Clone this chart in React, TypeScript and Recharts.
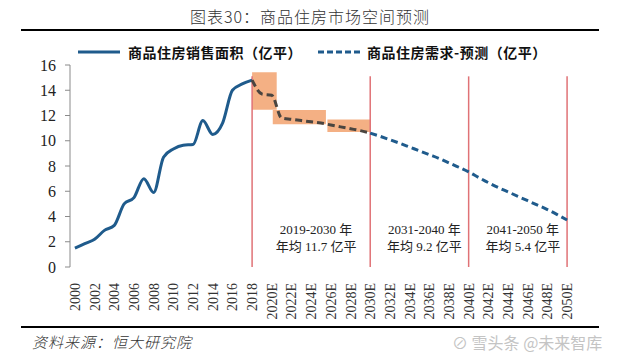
import React from "react"
import { LineChart, Line, XAxis, YAxis, ReferenceLine, ReferenceArea } from "recharts"

// x axis: one category per year, forecasts get an "E"
const years = Array.from({ length: 51 }, (_, i) => 2000 + i)
const yTicks = [0, 2, 4, 6, 8, 10, 12, 14, 16]

// 商品住房销售面积, 2000-2018
const salesYears = [2000, 2001, 2002, 2003, 2004, 2005, 2006, 2007, 2008, 2009, 2010, 2011, 2012, 2013, 2014, 2015, 2016, 2017, 2018]
const salesValues = [1.5, 1.85, 2.2, 2.9, 3.3, 5.0, 5.5, 7.0, 5.9, 8.7, 9.35, 9.65, 9.7, 11.6, 10.5, 11.4, 14.0, 14.5, 14.8]

// 需求预测: 2018-2030 (inside the orange boxes) and 2030-2050
const nearYears = [2018, 2019, 2020, 2021, 2022, 2023, 2024, 2025, 2026, 2027, 2028, 2029, 2030]
const nearValues = [14.8, 13.7, 13.6, 11.8, 11.7, 11.6, 11.5, 11.4, 11.25, 11.1, 10.95, 10.8, 10.6]
const farYears = [2030, 2031, 2032, 2033, 2034, 2035, 2036, 2037, 2038, 2039, 2040, 2041, 2042, 2043, 2044, 2045, 2046, 2047, 2048, 2049, 2050]
const farValues = [10.6, 10.35, 10.08, 9.8, 9.5, 9.2, 8.9, 8.6, 8.25, 7.9, 7.53, 7.1, 6.68, 6.3, 5.95, 5.6, 5.25, 4.9, 4.55, 4.15, 3.72]

// orange boxes
const boxX1 = [2018, 2020.1, 2025.65]
const boxX2 = [2020.5, 2025.5, 2030.05]
const boxLow = [12.45, 11.3, 10.7]
const boxHigh = [15.42, 12.43, 11.68]

// red dividers and period notes
const dividerYears = [2018, 2030, 2040, 2050]
const dividerTop = 15.1
const periodStart = [2019, 2031, 2041]
const periodEnd = [2030, 2040, 2050]
const periodAvg = ["11.7", "9.2", "5.4"]

const data = years.map((y) => {
    const si = salesYears.indexOf(y)
    const ni = nearYears.indexOf(y)
    const fi = farYears.indexOf(y)
    return {
        year: y,
        sales: si >= 0 ? salesValues[si] : null,
        near: ni >= 0 ? nearValues[ni] : null,
        far: fi >= 0 ? farValues[fi] : null,
    }
})

const SERIF = '"Liberation Serif", "Times New Roman", "Noto Sans CJK SC", serif'
const CJK = '"Noto Sans CJK SC", sans-serif'
const BLUE = "#1F5B8C"
const RED = "#E07276"
const ORANGE = "#F4B084"
const AXIS = "#8A8A8A"

const yearLabel = (y: number) => (y > 2018 ? `${y}E` : `${y}`)

function YearTick(props: any) {
    const { x, y, payload } = props
    return (
        <text
            transform={`translate(${x + 5},${y + 8}) rotate(-90)`}
            textAnchor="end"
            fontFamily={SERIF}
            fontSize={14}
            fill="#333"
        >
            {yearLabel(payload.value)}
        </text>
    )
}

function periodLabel(i: number) {
    return (props: any) => {
        const { x, y, width, height } = props.viewBox
        const cx = x + width / 2
        const cy = y + height / 2
        return (
            <text textAnchor="middle" fontFamily={SERIF} fontSize={13} fill="#222">
                <tspan x={cx} y={cy - 4}>{`${periodStart[i]}-${periodEnd[i]} 年`}</tspan>
                <tspan x={cx} y={cy + 13}>{`年均 ${periodAvg[i]} 亿平`}</tspan>
            </text>
        )
    }
}

export default function App() {
    const halfTicks = [...years.map((y) => y - 0.5), 2050.5]
    const labelTicks = years.filter((y) => y % 2 === 0)
    return (
        <div style={{ position: "relative", width: 624, height: 359, background: "#fff" }}>
            <style>{`body{margin:0}`}</style>
            <div style={{ position: "absolute", left: 0, top: 4, width: 620, textAlign: "center", fontFamily: CJK, fontSize: 16, fontWeight: 300, letterSpacing: 1, color: "#333" }}>
                图表30：商品住房市场空间预测
            </div>
            <div style={{ position: "absolute", left: 21, top: 29, width: 578, height: 2, background: "#000" }} />
            <div style={{ position: "absolute", left: 78, top: 42, display: "flex", alignItems: "center", fontFamily: CJK, fontSize: 14, fontWeight: 700, letterSpacing: 0.5, color: "#111", whiteSpace: "nowrap" }}>
                <svg width={42} height={6}><line x1={0} y1={3} x2={42} y2={3} stroke={BLUE} strokeWidth={3} /></svg>
                <span style={{ marginLeft: 8 }}>商品住房销售面积（亿平）</span>
                <svg width={44} height={6} style={{ marginLeft: 16 }}><line x1={0} y1={3} x2={44} y2={3} stroke={BLUE} strokeWidth={3} strokeDasharray="6 3" /></svg>
                <span style={{ marginLeft: 5 }}>商品住房需求-预测（亿平）</span>
            </div>
            <div style={{ position: "absolute", left: 0, top: 0 }}>
                <LineChart width={624} height={359} data={data} margin={{ top: 65, right: 52, left: 0, bottom: 32 }}>
                    <XAxis
                        xAxisId="tk"
                        dataKey="year"
                        type="number"
                        domain={[1999.5, 2050.5]}
                        ticks={halfTicks}
                        tick={false}
                        tickSize={4}
                        height={0}
                        stroke={AXIS}
                        allowDataOverflow
                    />
                    <XAxis
                        xAxisId="lab"
                        dataKey="year"
                        type="number"
                        domain={[1999.5, 2050.5]}
                        ticks={labelTicks}
                        interval={0}
                        tick={<YearTick />}
                        tickLine={false}
                        axisLine={false}
                        height={60}
                    />
                    <YAxis
                        domain={[0, 16]}
                        ticks={yTicks}
                        width={70}
                        tickSize={5}
                        tickMargin={9}
                        stroke={AXIS}
                        tick={{ fontFamily: SERIF, fontSize: 16, fill: "#222" }}
                    />
                    {dividerYears.map((y) => (
                        <ReferenceLine
                            key={y}
                            xAxisId="tk"
                            segment={[{ x: y, y: 0 }, { x: y, y: dividerTop }]}
                            stroke={RED}
                            strokeWidth={1.5}
                        />
                    ))}
                    {boxX1.map((x1, i) => (
                        <ReferenceArea
                            key={i}
                            xAxisId="tk"
                            x1={x1}
                            x2={boxX2[i]}
                            y1={boxLow[i]}
                            y2={boxHigh[i]}
                            fill={ORANGE}
                            fillOpacity={1}
                            stroke="none"
                        />
                    ))}
                    {periodStart.map((s, i) => (
                        <ReferenceArea
                            key={"p" + i}
                            xAxisId="tk"
                            x1={s - 0.5}
                            x2={periodEnd[i] + 0.5}
                            y1={1.0}
                            y2={3.6}
                            fill="none"
                            stroke="none"
                            label={periodLabel(i)}
                        />
                    ))}
                    <Line xAxisId="tk" type="monotone" dataKey="sales" stroke={BLUE} strokeWidth={3} dot={false} isAnimationActive={false} />
                    <Line xAxisId="tk" type="monotone" dataKey="near" stroke="#4A4540" strokeWidth={3} strokeDasharray="7 4" dot={false} isAnimationActive={false} />
                    <Line xAxisId="tk" type="monotone" dataKey="far" stroke={BLUE} strokeWidth={3} strokeDasharray="7 4" dot={false} isAnimationActive={false} />
                </LineChart>
            </div>
            <div style={{ position: "absolute", left: 21, top: 326, width: 578, height: 2, background: "#000" }} />
            <div style={{ position: "absolute", left: 32, top: 331, fontFamily: CJK, fontSize: 15, fontStyle: "italic", fontWeight: 300, color: "#333", letterSpacing: 1 }}>
                资料来源：恒大研究院
            </div>
            <div style={{ position: "absolute", left: 452, top: 330, fontFamily: CJK, fontSize: 16, color: "#c4c4c4", whiteSpace: "nowrap" }}>
                ⊘ 雪头条 @未来智库
            </div>
        </div>
    )
}
